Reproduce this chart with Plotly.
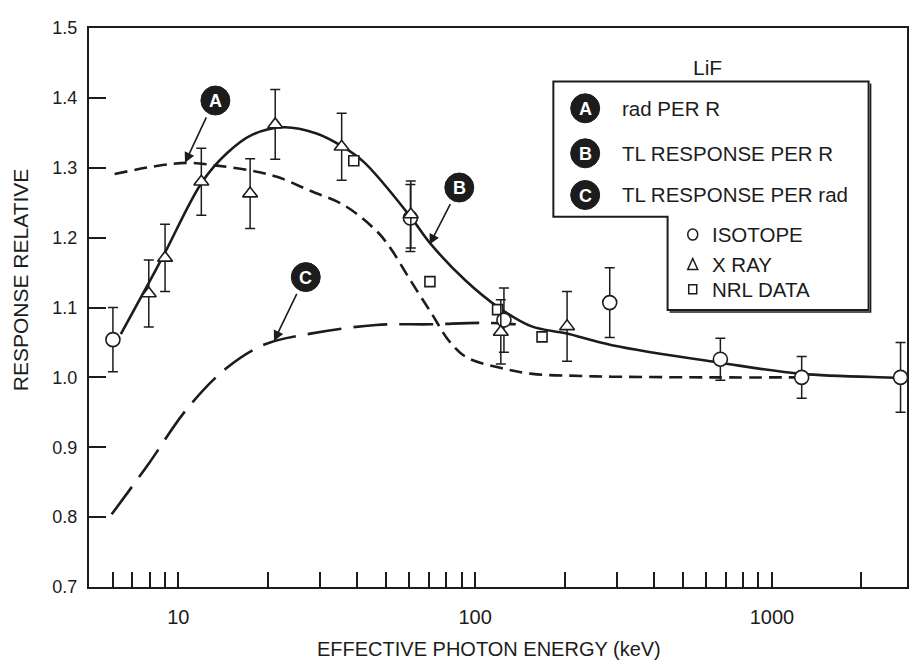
import math
import plotly.graph_objects as go

# ---- LiF response data (energy in keV) ----
# Curve A: rad per R
a_energy = [6.1, 8.3, 10.7, 13.5, 17.5, 21.5, 27.8, 36.3, 46.9, 52.0, 60.9, 71.4, 81.7, 93.3, 120.5, 156, 229, 289, 628, 1233]
a_response = [1.291, 1.302, 1.307, 1.303, 1.296, 1.287, 1.267, 1.246, 1.208, 1.184, 1.137, 1.091, 1.052, 1.029, 1.014, 1.005, 1.002, 1.001, 1.000, 1.000]

# Curve B: TL response per R
b_energy = [6.4, 7.9, 9.0, 12.0, 14.6, 17.7, 22.6, 29.2, 35.5, 42.2, 60.5, 70.8, 92.6, 120, 155, 202, 289, 668, 1260, 2716, 2850]
b_response = [1.062, 1.133, 1.178, 1.279, 1.321, 1.347, 1.358, 1.349, 1.331, 1.308, 1.230, 1.191, 1.139, 1.100, 1.073, 1.063, 1.046, 1.021, 1.005, 0.999, 0.998]

# Curve C: TL response per rad
c_energy = [5.96, 7.9, 10.7, 14.5, 19.5, 28.2, 46.3, 71.4, 105, 137]
c_response = [0.804, 0.875, 0.955, 1.013, 1.047, 1.063, 1.075, 1.076, 1.078, 1.076]

# Measured points
iso_energy = [6.02, 60.5, 125, 284, 670, 1259, 2711]
iso_response = [1.054, 1.228, 1.082, 1.107, 1.026, 1.000, 1.000]
iso_err = [0.046, 0.048, 0.046, 0.050, 0.030, 0.030, 0.050]

xray_energy = [7.95, 9.02, 11.95, 17.45, 21.2, 35.5, 60.7, 122, 204]
xray_response = [1.120, 1.171, 1.280, 1.263, 1.362, 1.330, 1.233, 1.065, 1.073]
xray_err = [0.048, 0.048, 0.048, 0.050, 0.050, 0.048, 0.048, 0.046, 0.050]

nrl_energy = [39.0, 70.4, 119, 168]
nrl_response = [1.310, 1.137, 1.097, 1.058]

# Axis ticks
x_major = [10, 100, 1000]
x_ticks = [6, 7, 8, 9, 10, 20, 30, 40, 50, 60, 70, 80, 90, 100,
           200, 300, 400, 500, 600, 700, 800, 900, 1000, 2000]
y_ticks = [0.7, 0.8, 0.9, 1.0, 1.1, 1.2, 1.3, 1.4, 1.5]

INK = "#1c1c1c"
FONT = "Liberation Sans, Arial, sans-serif"

W, H = 910, 667
ML, MR, MT, MB = 89, 1, 28, 80
PW, PH = W - ML - MR, H - MT - MB


def fx(x):
    return (x - ML) / PW


def fy(y):
    return (MT + PH - y) / PH


fig = go.Figure()

fig.add_trace(go.Scatter(x=a_energy, y=a_response, mode="lines", line_shape="spline",
                         line=dict(color=INK, width=2.6, dash="13px,7px"), hoverinfo="skip"))
fig.add_trace(go.Scatter(x=c_energy, y=c_response, mode="lines", line_shape="spline",
                         line=dict(color=INK, width=2.6, dash="34px,12px"), hoverinfo="skip"))
fig.add_trace(go.Scatter(x=b_energy, y=b_response, mode="lines", line_shape="spline",
                         line=dict(color=INK, width=2.6), hoverinfo="skip"))

err_style = dict(type="data", thickness=1.5, width=5, color=INK)
fig.add_trace(go.Scatter(x=nrl_energy, y=nrl_response, mode="markers",
                         marker=dict(symbol="square", size=10, color="white",
                                     line=dict(color=INK, width=1.6))))
fig.add_trace(go.Scatter(x=iso_energy, y=iso_response, mode="markers",
                         error_y=dict(array=iso_err, **err_style),
                         marker=dict(symbol="circle", size=14, color="white",
                                     line=dict(color=INK, width=1.6))))
fig.add_trace(go.Scatter(x=xray_energy, y=xray_response, mode="markers",
                         error_y=dict(array=xray_err, **err_style),
                         marker=dict(symbol="triangle-up", size=13, color="white",
                                     line=dict(color=INK, width=1.6))))

shapes = []
annotations = []


def label(xp, yp, text, size, anchor="center", angle=0, color=INK):
    annotations.append(dict(x=fx(xp), y=fy(yp), xref="paper", yref="paper", text=text,
                            xanchor=anchor, yanchor="middle", textangle=angle,
                            showarrow=False, font=dict(family=FONT, size=size, color=color)))


def badge(xp, yp, letter, r=14.5):
    shapes.append(dict(type="circle", xref="paper", yref="paper", xsizemode="pixel",
                       ysizemode="pixel", xanchor=fx(xp), yanchor=fy(yp),
                       x0=-r, x1=r, y0=-r, y1=r, fillcolor=INK,
                       line=dict(color=INK, width=1)))
    label(xp, yp + 0.5, "<b>%s</b>" % letter, 18, color="white")


def pointer(e, v, ax, ay):
    annotations.append(dict(x=math.log10(e), y=v, xref="x", yref="y", text="",
                            showarrow=True, ax=ax, ay=ay, arrowhead=2, arrowsize=1.3,
                            arrowwidth=1.6, arrowcolor=INK, standoff=0, startstandoff=0))


# Callouts on the curves
badge(215.7, 100.5, "A")
pointer(10.53, 1.307, 22, -47)
badge(460.2, 187.5, "B")
pointer(70.2, 1.190, 21.5, -42)
badge(306.3, 277.1, "C")
pointer(21.0, 1.052, 23.5, -48.7)

# Legend box (stepped outline)
box = [(554.5, 81.5), (870.5, 81.5), (870.5, 310), (669, 310), (669, 216.7), (554.5, 216.7)]
path = "M " + " L ".join("%.5f,%.5f" % (fx(x), fy(y)) for x, y in box) + " Z"
shapes.append(dict(type="path", xref="paper", yref="paper", path=path,
                   line=dict(color=INK, width=2), fillcolor="rgba(0,0,0,0)"))
shadow = [(872.5, 83.5), (872.5, 312), (671, 312)]
shapes.append(dict(type="path", xref="paper", yref="paper",
                   path="M " + " L ".join("%.5f,%.5f" % (fx(x), fy(y)) for x, y in shadow),
                   line=dict(color=INK, width=1.5)))

label(709, 67, "LiF", 21)

legend_rows = [("A", "rad PER R", 108.3), ("B", "TL RESPONSE PER R", 153.3),
               ("C", "TL RESPONSE PER rad", 195)]
for letter, text, yy in legend_rows:
    badge(586.4, yy, letter)
    label(621, yy, text, 20.5, anchor="left")


# Marker key
def key_shape(xp, yp, kind):
    common = dict(xref="paper", yref="paper", xsizemode="pixel", ysizemode="pixel",
                  xanchor=fx(xp), yanchor=fy(yp), line=dict(color=INK, width=1.5),
                  fillcolor="white")
    if kind == "circle":
        shapes.append(dict(type="circle", x0=-5, x1=5, y0=-5.5, y1=5.5, **common))
    elif kind == "triangle":
        shapes.append(dict(type="path", path="M -5,-5 L 5,-5 L 0,6 Z", **common))
    else:
        shapes.append(dict(type="rect", x0=-4, x1=4, y0=-4.5, y1=4.5, **common))


for kind, text, yy in [("circle", "ISOTOPE", 234.5), ("triangle", "X RAY", 264.5),
                       ("square", "NRL DATA", 289.3)]:
    key_shape(694.2, yy, kind)
    label(712, yy, text, 20.5, anchor="left")

# Axis titles
label(20, 280, "RESPONSE RELATIVE", 21, angle=-90)
label(490, 649, "EFFECTIVE PHOTON ENERGY (keV)", 20)

fig.update_layout(
    width=W, height=H, margin=dict(l=ML, r=MR, t=MT, b=MB),
    paper_bgcolor="white", plot_bgcolor="white", showlegend=False,
    shapes=shapes, annotations=annotations,
    font=dict(family=FONT, size=18, color=INK),
)
fig.update_xaxes(type="log", range=[math.log10(5), math.log10(2850)],
                 tickmode="array", tickvals=x_ticks,
                 ticktext=[str(v) if v in x_major else "" for v in x_ticks],
                 tickfont=dict(size=20),
                 ticks="inside", ticklen=15, tickwidth=1.6, tickcolor=INK,
                 ticklabelstandoff=11,
                 showline=True, linecolor=INK, linewidth=2.4, mirror=True,
                 showgrid=False, zeroline=False)
fig.update_yaxes(range=[0.7, 1.5], tickmode="array", tickvals=y_ticks,
                 ticktext=["%.1f" % v for v in y_ticks],
                 tickfont=dict(size=18),
                 ticks="inside", ticklen=17, tickwidth=1.6, tickcolor=INK,
                 ticklabelstandoff=6,
                 showline=True, linecolor=INK, linewidth=2.4, mirror=True,
                 showgrid=False, zeroline=False)

fig.write_html("out.html")
